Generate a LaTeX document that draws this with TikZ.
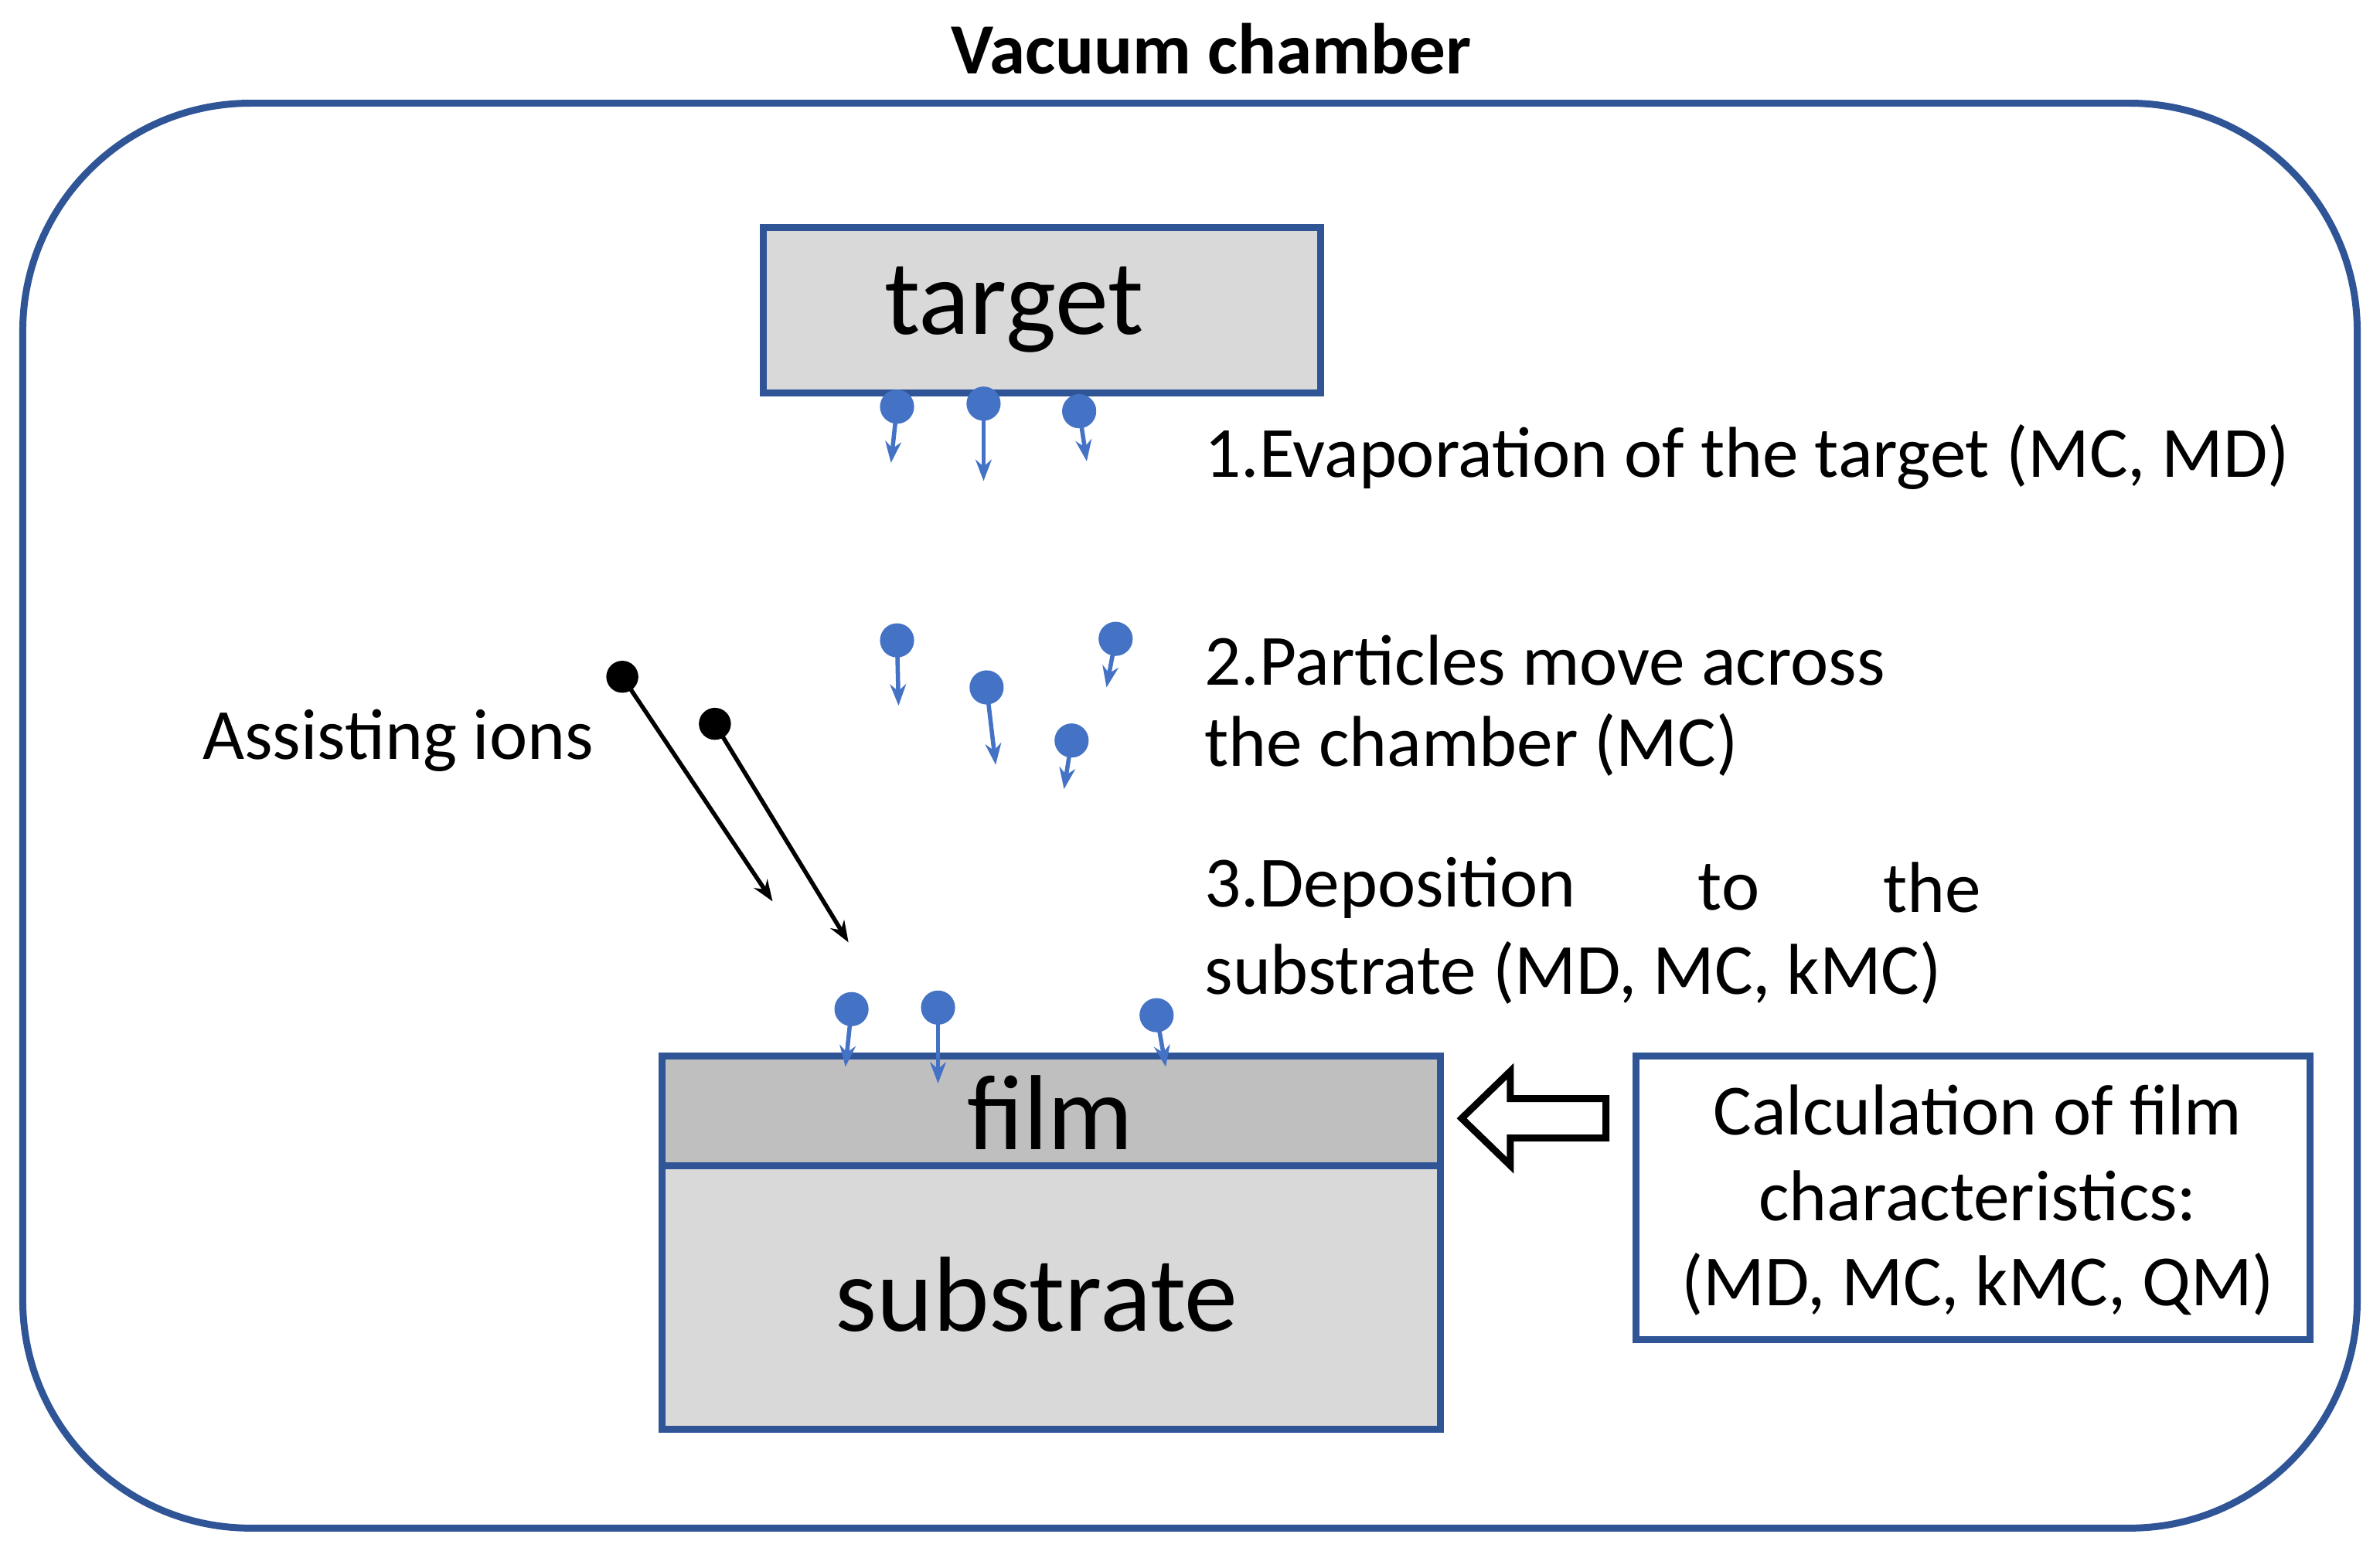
\documentclass[tikz,border=0pt]{standalone}
\usepackage{fontspec}
\setmainfont{Carlito}
\usetikzlibrary{arrows.meta}
\definecolor{frame}{HTML}{2F5597}
\definecolor{dot}{HTML}{4472C4}
\begin{document}
\begin{tikzpicture}[x=0.01cm,y=-0.01cm,
  box/.style={draw=frame,line width=1.3pt},
  lbl/.style={anchor=west,inner sep=0pt,font=\fontsize{13.5}{16}\selectfont},
  big/.style={font=\fontsize{20}{24}\selectfont},
  part/.style={dot,line width=0.8pt,-{Stealth[length=4pt,width=3pt]}},
  ion/.style={black,line width=0.8pt,-{Stealth[length=4pt,width=3pt]}}]
\useasboundingbox (0,0) rectangle (1568,1022);
\node[font=\bfseries\fontsize{13.5}{16}\selectfont] (title) at (798,32) {Vacuum chamber};
\draw[box,rounded corners=1.5cm] (15,68) rectangle (1553,1007);
% target
\draw[box,fill=gray!30] (503,150) rectangle (870,259);
\node[big] (target) at (668,204) {target};
% film and substrate
\draw[box,fill=gray!50] (436,696) rectangle (949,768);
\draw[box,fill=gray!30] (436,768) rectangle (949,942);
\node[big] (film) at (692,733) {film};
\node[big] (substrate) at (683,853) {substrate};
% calculation box
\draw[box,fill=white] (1078,696) rectangle (1522,883);
\node[align=center,font=\fontsize{13.5}{16}\selectfont] (calc) at (1303,791)
  {Calculation of film\\characteristics:\\(MD, MC, kMC, QM)};
% hollow arrow
\draw[black,line width=1.3pt,fill=white,line join=miter]
  (963,737) -- (995,706) -- (995,724) -- (1058,724) -- (1058,750)
  -- (995,750) -- (995,768) -- cycle;
% particles
\foreach \a/\b/\c/\d [count=\i] in {591/268/587/305, 648/266/648/317, 711/271/716/304,
  591/422/592/465, 650/453/656/504, 735/421/729/453, 706/488/701/520,
  561/665/557/703, 618/664/618/714, 762/669/768/703}{
  \fill[dot] (\a,\b) circle (3.2pt);
  \coordinate (p\i) at (\c,\d);
  \draw[part] (\a,\b) -- (p\i);
}
% ions
\foreach \a/\b/\c/\d [count=\i] in {410/446/509/594, 471/477/559/621}{
  \fill[black] (\a,\b) circle (3pt);
  \coordinate (q\i) at (\c,\d);
  \draw[ion] (\a,\b) -- (q\i);
}
% labels
\node[lbl] (ions) at (133,488) {Assisting ions};
\node[lbl] (s1) at (793,301) {1.Evaporation of the target (MC, MD)};
\node[lbl] (s2a) at (793,435) {2.Particles move across};
\node[lbl] (s2b) at (793,491) {the chamber (MC)};
\node[lbl] (s3a) at (793,585) {3.Deposition};
\node[lbl] (s3b) at (1118,585) {to};
\node[lbl] (s3c) at (1240,585) {the};
\node[lbl] (s3d) at (793,641) {substrate (MD, MC, kMC)};
\end{tikzpicture}
\end{document}
